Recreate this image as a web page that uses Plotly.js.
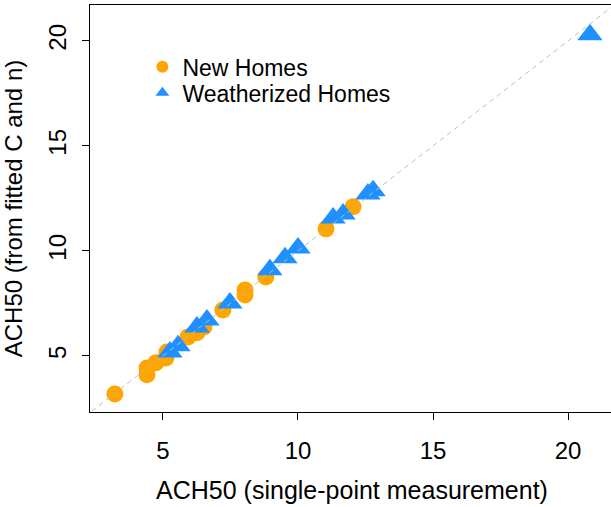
<!DOCTYPE html>
<html>
<head>
<meta charset="utf-8">
<script src="https://cdn.plot.ly/plotly-3.0.1.min.js"></script>
<style>
html,body{margin:0;padding:0;overflow:hidden;background:#fff;}
#chart{width:620px;height:507px;}
</style>
</head>
<body>
<div id="chart"></div>
<script>
// New Homes (orange circles)
var newX = [3.22, 4.41, 4.41, 4.74, 5.11, 5.15, 5.93, 6.26, 6.52, 7.22, 8.04, 8.04, 8.81, 11.04, 12.04];
var newY = [3.19, 4.10, 4.43, 4.67, 4.90, 5.19, 5.90, 6.10, 6.38, 7.19, 7.90, 8.14, 8.76, 11.05, 12.10];
// Weatherized Homes (blue triangles)
var wxX = [5.26, 5.56, 6.26, 6.63, 7.48, 8.96, 9.52, 10.0, 11.3, 11.67, 12.59, 12.78, 20.81];
var wxY = [5.19, 5.48, 6.38, 6.71, 7.52, 9.10, 9.67, 10.14, 11.57, 11.76, 12.71, 12.86, 20.29];
// 1:1 reference line
var refLine = [0, 30];
var tickVals = [5, 10, 15, 20];

var font = 'Liberation Sans, Arial, Helvetica, sans-serif';
var fs = 24;
var lfs = 23;

var traces = [
  {x: newX, y: newY, type: 'scatter', mode: 'markers', name: 'New Homes',
   marker: {color: '#FFA500', size: 17, symbol: 'circle', line: {width: 0}},
   legend: 'legend', cliponaxis: false},
  {x: wxX, y: wxY, type: 'scatter', mode: 'markers', name: 'Weatherized Homes',
   marker: {color: '#1E90FF', size: 22, symbol: 'triangle-up', line: {width: 0}},
   legend: 'legend2', cliponaxis: false},
  {x: refLine, y: refLine, type: 'scatter', mode: 'lines', showlegend: false,
   line: {color: '#BEBEBE', width: 1, dash: '5px,4px'}, hoverinfo: 'skip'}
];

var axisCommon = {
  showgrid: false, zeroline: false, showline: true, linecolor: '#000', linewidth: 1,
  mirror: true, ticks: 'outside', ticklen: 7, tickwidth: 1, tickcolor: '#000',
  tickmode: 'array', tickvals: tickVals, ticktext: tickVals.map(String),
  tickfont: {family: font, size: fs, color: '#000'}
};

var layout = {
  width: 620, height: 507,
  margin: {l: 90, r: 6, t: 5, b: 95},
  paper_bgcolor: '#fff', plot_bgcolor: '#fff',
  font: {family: font, color: '#000'},
  xaxis: Object.assign({}, axisCommon, {
    range: [2.3, 21.7],
    ticklabelstandoff: 10,
    title: {text: 'ACH50 (single-point measurement)', font: {family: font, size: 25, color: '#000'}, standoff: 18}
  }),
  yaxis: Object.assign({}, axisCommon, {
    range: [2.33, 21.71],
    tickangle: -90,
    ticklabelstandoff: 6,
    title: {text: 'ACH50 (from fitted C and n)', font: {family: font, size: fs, color: '#000'}, standoff: 16}
  }),
  legend: {x: 0.10, y: 0.901, xanchor: 'left', yanchor: 'top', bgcolor: 'rgba(0,0,0,0)',
           borderwidth: 0, font: {family: font, size: lfs, color: '#000'}, itemsizing: 'constant'},
  legend2: {x: 0.10, y: 0.837, xanchor: 'left', yanchor: 'top', bgcolor: 'rgba(0,0,0,0)',
           borderwidth: 0, font: {family: font, size: lfs, color: '#000'}, itemsizing: 'constant'},
  showlegend: true
};

Plotly.newPlot('chart', traces, layout, {displayModeBar: false, staticPlot: true});
</script>
</body>
</html>
